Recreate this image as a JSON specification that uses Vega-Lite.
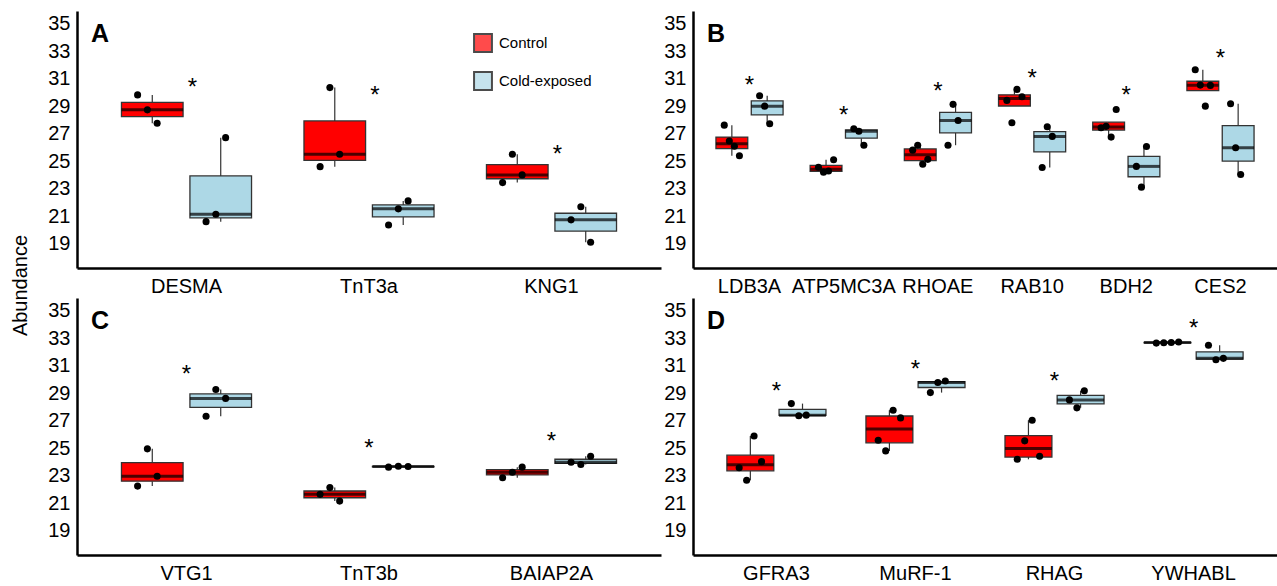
{
  "$schema": "https://vega.github.io/schema/vega-lite/v6.json",
  "padding": {"left": 10, "top": 11, "right": 0, "bottom": 0},
  "datasets": {
    "pts": [
      {"panel":"A","gene":"DESMA","group":"Control","rep":1,"value":29.84},
      {"panel":"A","gene":"DESMA","group":"Control","rep":2,"value":28.75},
      {"panel":"A","gene":"DESMA","group":"Control","rep":3,"value":27.78},
      {"panel":"A","gene":"DESMA","group":"Cold-exposed","rep":1,"value":20.62},
      {"panel":"A","gene":"DESMA","group":"Cold-exposed","rep":2,"value":21.16},
      {"panel":"A","gene":"DESMA","group":"Cold-exposed","rep":3,"value":26.73},
      {"panel":"A","gene":"TnT3a","group":"Control","rep":1,"value":24.62},
      {"panel":"A","gene":"TnT3a","group":"Control","rep":2,"value":30.37},
      {"panel":"A","gene":"TnT3a","group":"Control","rep":3,"value":25.52},
      {"panel":"A","gene":"TnT3a","group":"Cold-exposed","rep":1,"value":20.38},
      {"panel":"A","gene":"TnT3a","group":"Cold-exposed","rep":2,"value":21.55},
      {"panel":"A","gene":"TnT3a","group":"Cold-exposed","rep":3,"value":22.13},
      {"panel":"A","gene":"KNG1","group":"Control","rep":1,"value":23.46},
      {"panel":"A","gene":"KNG1","group":"Control","rep":2,"value":25.52},
      {"panel":"A","gene":"KNG1","group":"Control","rep":3,"value":24.02},
      {"panel":"A","gene":"KNG1","group":"Cold-exposed","rep":1,"value":20.75},
      {"panel":"A","gene":"KNG1","group":"Cold-exposed","rep":2,"value":21.71},
      {"panel":"A","gene":"KNG1","group":"Cold-exposed","rep":3,"value":19.12},

      {"panel":"B","gene":"LDB3A","group":"Control","rep":1,"value":27.64},
      {"panel":"B","gene":"LDB3A","group":"Control","rep":2,"value":26.48},
      {"panel":"B","gene":"LDB3A","group":"Control","rep":3,"value":26.11},
      {"panel":"B","gene":"LDB3A","group":"Control","rep":4,"value":25.41},
      {"panel":"B","gene":"LDB3A","group":"Cold-exposed","rep":1,"value":29.78},
      {"panel":"B","gene":"LDB3A","group":"Cold-exposed","rep":2,"value":29.02},
      {"panel":"B","gene":"LDB3A","group":"Cold-exposed","rep":3,"value":27.74},
      {"panel":"B","gene":"ATP5MC3A","group":"Control","rep":1,"value":24.58},
      {"panel":"B","gene":"ATP5MC3A","group":"Control","rep":2,"value":24.22},
      {"panel":"B","gene":"ATP5MC3A","group":"Control","rep":3,"value":24.3},
      {"panel":"B","gene":"ATP5MC3A","group":"Control","rep":4,"value":25.12},
      {"panel":"B","gene":"ATP5MC3A","group":"Cold-exposed","rep":1,"value":27.38},
      {"panel":"B","gene":"ATP5MC3A","group":"Cold-exposed","rep":2,"value":27.2},
      {"panel":"B","gene":"ATP5MC3A","group":"Cold-exposed","rep":3,"value":26.18},
      {"panel":"B","gene":"RHOAE","group":"Control","rep":1,"value":25.82},
      {"panel":"B","gene":"RHOAE","group":"Control","rep":2,"value":26.18},
      {"panel":"B","gene":"RHOAE","group":"Control","rep":3,"value":24.8},
      {"panel":"B","gene":"RHOAE","group":"Control","rep":4,"value":25.15},
      {"panel":"B","gene":"RHOAE","group":"Cold-exposed","rep":1,"value":26.18},
      {"panel":"B","gene":"RHOAE","group":"Cold-exposed","rep":2,"value":29.15},
      {"panel":"B","gene":"RHOAE","group":"Cold-exposed","rep":3,"value":27.98},
      {"panel":"B","gene":"RAB10","group":"Control","rep":1,"value":29.44},
      {"panel":"B","gene":"RAB10","group":"Control","rep":2,"value":27.81},
      {"panel":"B","gene":"RAB10","group":"Control","rep":3,"value":30.24},
      {"panel":"B","gene":"RAB10","group":"Control","rep":4,"value":29.71},
      {"panel":"B","gene":"RAB10","group":"Cold-exposed","rep":1,"value":24.56},
      {"panel":"B","gene":"RAB10","group":"Cold-exposed","rep":2,"value":27.52},
      {"panel":"B","gene":"RAB10","group":"Cold-exposed","rep":3,"value":26.82},
      {"panel":"B","gene":"BDH2","group":"Control","rep":1,"value":27.45},
      {"panel":"B","gene":"BDH2","group":"Control","rep":2,"value":27.55},
      {"panel":"B","gene":"BDH2","group":"Control","rep":3,"value":26.77},
      {"panel":"B","gene":"BDH2","group":"Control","rep":4,"value":28.78},
      {"panel":"B","gene":"BDH2","group":"Cold-exposed","rep":1,"value":24.64},
      {"panel":"B","gene":"BDH2","group":"Cold-exposed","rep":2,"value":23.13},
      {"panel":"B","gene":"BDH2","group":"Cold-exposed","rep":3,"value":26.09},
      {"panel":"B","gene":"CES2","group":"Control","rep":1,"value":31.67},
      {"panel":"B","gene":"CES2","group":"Control","rep":2,"value":30.55},
      {"panel":"B","gene":"CES2","group":"Control","rep":3,"value":29.02},
      {"panel":"B","gene":"CES2","group":"Control","rep":4,"value":30.53},
      {"panel":"B","gene":"CES2","group":"Cold-exposed","rep":1,"value":29.2},
      {"panel":"B","gene":"CES2","group":"Cold-exposed","rep":2,"value":26.0},
      {"panel":"B","gene":"CES2","group":"Cold-exposed","rep":3,"value":24.05},

      {"panel":"C","gene":"VTG1","group":"Control","rep":1,"value":22.26},
      {"panel":"C","gene":"VTG1","group":"Control","rep":2,"value":24.97},
      {"panel":"C","gene":"VTG1","group":"Control","rep":3,"value":22.98},
      {"panel":"C","gene":"VTG1","group":"Cold-exposed","rep":1,"value":27.34},
      {"panel":"C","gene":"VTG1","group":"Cold-exposed","rep":2,"value":29.29},
      {"panel":"C","gene":"VTG1","group":"Cold-exposed","rep":3,"value":28.64},
      {"panel":"C","gene":"TnT3b","group":"Control","rep":1,"value":21.66},
      {"panel":"C","gene":"TnT3b","group":"Control","rep":2,"value":22.15},
      {"panel":"C","gene":"TnT3b","group":"Control","rep":3,"value":21.17},
      {"panel":"C","gene":"TnT3b","group":"Cold-exposed","rep":1,"value":23.64},
      {"panel":"C","gene":"TnT3b","group":"Cold-exposed","rep":2,"value":23.7},
      {"panel":"C","gene":"TnT3b","group":"Cold-exposed","rep":3,"value":23.68},
      {"panel":"C","gene":"BAIAP2A","group":"Control","rep":1,"value":22.87},
      {"panel":"C","gene":"BAIAP2A","group":"Control","rep":2,"value":23.27},
      {"panel":"C","gene":"BAIAP2A","group":"Control","rep":3,"value":23.64},
      {"panel":"C","gene":"BAIAP2A","group":"Cold-exposed","rep":1,"value":24.0},
      {"panel":"C","gene":"BAIAP2A","group":"Cold-exposed","rep":2,"value":23.83},
      {"panel":"C","gene":"BAIAP2A","group":"Cold-exposed","rep":3,"value":24.43},

      {"panel":"D","gene":"GFRA3","group":"Control","rep":1,"value":23.6},
      {"panel":"D","gene":"GFRA3","group":"Control","rep":2,"value":22.69},
      {"panel":"D","gene":"GFRA3","group":"Control","rep":3,"value":25.91},
      {"panel":"D","gene":"GFRA3","group":"Control","rep":4,"value":24.04},
      {"panel":"D","gene":"GFRA3","group":"Cold-exposed","rep":1,"value":28.26},
      {"panel":"D","gene":"GFRA3","group":"Cold-exposed","rep":2,"value":27.38},
      {"panel":"D","gene":"GFRA3","group":"Cold-exposed","rep":3,"value":27.42},
      {"panel":"D","gene":"MuRF-1","group":"Control","rep":1,"value":25.6},
      {"panel":"D","gene":"MuRF-1","group":"Control","rep":2,"value":24.82},
      {"panel":"D","gene":"MuRF-1","group":"Control","rep":3,"value":27.78},
      {"panel":"D","gene":"MuRF-1","group":"Control","rep":4,"value":27.22},
      {"panel":"D","gene":"MuRF-1","group":"Cold-exposed","rep":1,"value":29.06},
      {"panel":"D","gene":"MuRF-1","group":"Cold-exposed","rep":2,"value":29.8},
      {"panel":"D","gene":"MuRF-1","group":"Cold-exposed","rep":3,"value":29.9},
      {"panel":"D","gene":"RHAG","group":"Control","rep":1,"value":24.21},
      {"panel":"D","gene":"RHAG","group":"Control","rep":2,"value":25.55},
      {"panel":"D","gene":"RHAG","group":"Control","rep":3,"value":27.05},
      {"panel":"D","gene":"RHAG","group":"Control","rep":4,"value":24.43},
      {"panel":"D","gene":"RHAG","group":"Cold-exposed","rep":1,"value":28.53},
      {"panel":"D","gene":"RHAG","group":"Cold-exposed","rep":2,"value":27.95},
      {"panel":"D","gene":"RHAG","group":"Cold-exposed","rep":3,"value":29.2},
      {"panel":"D","gene":"YWHABL","group":"Control","rep":1,"value":32.66},
      {"panel":"D","gene":"YWHABL","group":"Control","rep":2,"value":32.69},
      {"panel":"D","gene":"YWHABL","group":"Control","rep":3,"value":32.71},
      {"panel":"D","gene":"YWHABL","group":"Control","rep":4,"value":32.74},
      {"panel":"D","gene":"YWHABL","group":"Cold-exposed","rep":1,"value":32.5},
      {"panel":"D","gene":"YWHABL","group":"Cold-exposed","rep":2,"value":31.45},
      {"panel":"D","gene":"YWHABL","group":"Cold-exposed","rep":3,"value":31.55}
    ],
    "sig": [
      {"panel":"A","gene":"DESMA","y":30.85},
      {"panel":"A","gene":"TnT3a","y":30.25},
      {"panel":"A","gene":"KNG1","y":26.0},
      {"panel":"B","gene":"LDB3A","y":30.96},
      {"panel":"B","gene":"ATP5MC3A","y":28.78},
      {"panel":"B","gene":"RHOAE","y":30.53},
      {"panel":"B","gene":"RAB10","y":31.5},
      {"panel":"B","gene":"BDH2","y":30.29},
      {"panel":"B","gene":"CES2","y":32.94},
      {"panel":"C","gene":"VTG1","y":30.84},
      {"panel":"C","gene":"TnT3b","y":25.45},
      {"panel":"C","gene":"BAIAP2A","y":25.99},
      {"panel":"D","gene":"GFRA3","y":29.6},
      {"panel":"D","gene":"MuRF-1","y":31.2},
      {"panel":"D","gene":"RHAG","y":30.32},
      {"panel":"D","gene":"YWHABL","y":34.22}
    ]
  },
  "columns": 2,
  "spacing": {"row": 30, "column": 32},
  "bounds": "flush",
  "resolve": {"legend": {"color": "independent"}},
  "concat": [
    {
      "width": 584, "height": 257,
      "title": {"text": "A", "anchor": "start", "frame": "group", "fontSize": 25, "fontWeight": "bold", "color": "black", "offset": 0, "baseline": "alphabetic", "dx": 14, "dy": 56},
      "layer": [
        {
          "data": {"name": "pts"},
          "transform": [{"filter": "datum.panel === 'A'"}],
          "mark": {"type": "boxplot", "extent": 1.5, "size": 61.6, "ticks": false, "outliers": false,
                   "box": {"stroke": "#333333", "strokeWidth": 1.3},
                   "median": {"color": "black", "thickness": 3},
                   "rule": {"color": "#333333", "strokeWidth": 1.2}},
          "encoding": {
            "x": {"field": "gene", "type": "nominal", "scale": {"domain": ["DESMA","TnT3a","KNG1"], "paddingInner": 0, "paddingOuter": 0.1}, "axis": {"title": null}},
            "xOffset": {"field": "group", "type": "nominal", "scale": {"domain": ["Control","Cold-exposed"], "paddingInner": 0.1, "paddingOuter": 0.383}},
            "y": {"field": "value", "type": "quantitative", "title": "Abundance", "scale": {"domain": [17.25, 35.94], "nice": false, "zero": false}, "axis": {"values": [19,21,23,25,27,29,31,33,35]}},
            "color": {"field": "group", "type": "nominal", "scale": {"domain": ["Control","Cold-exposed"], "range": ["#FF0000","#ADD8E6"]},
                      "legend": {"title": null, "orient": "none", "legendX": 396, "legendY": 22, "symbolType": "square", "symbolSize": 320, "symbolStrokeColor": "black", "symbolStrokeWidth": 2, "labelFontSize": 15, "labelColor": "black", "labelOffset": 6, "rowPadding": 12}}
          }
        },
        {
          "data": {"name": "pts"},
          "transform": [{"filter": "datum.panel === 'A'"}, {"calculate": "datum.group + '|' + datum.rep", "as": "slot"}],
          "mark": {"type": "circle", "size": 50, "color": "black", "opacity": 1},
          "encoding": {
            "x": {"field": "gene", "type": "nominal", "scale": {"domain": ["DESMA","TnT3a","KNG1"], "paddingInner": 0, "paddingOuter": 0.1}, "axis": {"title": null}},
            "xOffset": {"field": "slot", "type": "nominal", "scale": {"type": "point", "domain": ["l1","l2","l3","l4","Control|1","Control|2","Control|3","Control|4","s1","s2","s3","Cold-exposed|1","Cold-exposed|2","Cold-exposed|3","Cold-exposed|4","r1","r2","r3","r4"], "padding": 0.33}},
            "y": {"field": "value", "type": "quantitative", "title": "Abundance", "scale": {"domain": [17.25, 35.94], "nice": false, "zero": false}, "axis": {"values": [19,21,23,25,27,29,31,33,35]}}
          }
        },
        {
          "data": {"name": "sig"},
          "transform": [{"filter": "datum.panel === 'A'"}],
          "mark": {"type": "text", "text": "*", "fontSize": 24, "dy": 14, "dx": 6, "baseline": "alphabetic", "color": "black"},
          "encoding": {
            "x": {"field": "gene", "type": "nominal", "scale": {"domain": ["DESMA","TnT3a","KNG1"], "paddingInner": 0, "paddingOuter": 0.1}, "axis": {"title": null}},
            "y": {"field": "y", "type": "quantitative", "title": "Abundance", "scale": {"domain": [17.25, 35.94], "nice": false, "zero": false}, "axis": {"values": [19,21,23,25,27,29,31,33,35]}}
          }
        }
      ],
      "resolve": {"scale": {"xOffset": "independent"}}
    },
    {
      "width": 584, "height": 257,
      "title": {"text": "B", "anchor": "start", "frame": "group", "fontSize": 25, "fontWeight": "bold", "color": "black", "offset": 0, "baseline": "alphabetic", "dx": 14, "dy": 56},
      "layer": [
        {
          "data": {"name": "pts"},
          "transform": [{"filter": "datum.panel === 'B'"}],
          "mark": {"type": "boxplot", "extent": 1.5, "size": 31.8, "ticks": false, "outliers": false,
                   "box": {"stroke": "#333333", "strokeWidth": 1.3},
                   "median": {"color": "black", "thickness": 3},
                   "rule": {"color": "#333333", "strokeWidth": 1.2}},
          "encoding": {
            "x": {"field": "gene", "type": "nominal", "scale": {"domain": ["LDB3A","ATP5MC3A","RHOAE","RAB10","BDH2","CES2"], "paddingInner": 0, "paddingOuter": 0.1}, "axis": {"title": null}},
            "xOffset": {"field": "group", "type": "nominal", "scale": {"domain": ["Control","Cold-exposed"], "paddingInner": 0.1, "paddingOuter": 0.383}},
            "y": {"field": "value", "type": "quantitative", "title": null, "scale": {"domain": [17.25, 35.94], "nice": false, "zero": false}, "axis": {"values": [19,21,23,25,27,29,31,33,35]}},
            "color": {"field": "group", "type": "nominal", "scale": {"domain": ["Control","Cold-exposed"], "range": ["#FF0000","#ADD8E6"]}, "legend": null}
          }
        },
        {
          "data": {"name": "pts"},
          "transform": [{"filter": "datum.panel === 'B'"}, {"calculate": "datum.group + '|' + datum.rep", "as": "slot"}],
          "mark": {"type": "circle", "size": 50, "color": "black", "opacity": 1},
          "encoding": {
            "x": {"field": "gene", "type": "nominal", "scale": {"domain": ["LDB3A","ATP5MC3A","RHOAE","RAB10","BDH2","CES2"], "paddingInner": 0, "paddingOuter": 0.1}, "axis": {"title": null}},
            "xOffset": {"field": "slot", "type": "nominal", "scale": {"type": "point", "domain": ["l1","l2","l3","l4","Control|1","Control|2","Control|3","Control|4","s1","s2","s3","Cold-exposed|1","Cold-exposed|2","Cold-exposed|3","Cold-exposed|4","r1","r2","r3","r4"], "padding": 0.33}},
            "y": {"field": "value", "type": "quantitative", "title": null, "scale": {"domain": [17.25, 35.94], "nice": false, "zero": false}, "axis": {"values": [19,21,23,25,27,29,31,33,35]}}
          }
        },
        {
          "data": {"name": "sig"},
          "transform": [{"filter": "datum.panel === 'B'"}],
          "mark": {"type": "text", "text": "*", "fontSize": 24, "dy": 14, "baseline": "alphabetic", "color": "black"},
          "encoding": {
            "x": {"field": "gene", "type": "nominal", "scale": {"domain": ["LDB3A","ATP5MC3A","RHOAE","RAB10","BDH2","CES2"], "paddingInner": 0, "paddingOuter": 0.1}, "axis": {"title": null}},
            "y": {"field": "y", "type": "quantitative", "title": null, "scale": {"domain": [17.25, 35.94], "nice": false, "zero": false}, "axis": {"values": [19,21,23,25,27,29,31,33,35]}}
          }
        }
      ],
      "resolve": {"scale": {"xOffset": "independent"}}
    },
    {
      "width": 584, "height": 257,
      "title": {"text": "C", "anchor": "start", "frame": "group", "fontSize": 25, "fontWeight": "bold", "color": "black", "offset": 0, "baseline": "alphabetic", "dx": 14, "dy": 56},
      "layer": [
        {
          "data": {"name": "pts"},
          "transform": [{"filter": "datum.panel === 'C'"}],
          "mark": {"type": "boxplot", "extent": 1.5, "size": 61.6, "ticks": false, "outliers": false,
                   "box": {"stroke": "#333333", "strokeWidth": 1.3},
                   "median": {"color": "black", "thickness": 3},
                   "rule": {"color": "#333333", "strokeWidth": 1.2}},
          "encoding": {
            "x": {"field": "gene", "type": "nominal", "scale": {"domain": ["VTG1","TnT3b","BAIAP2A"], "paddingInner": 0, "paddingOuter": 0.1}, "axis": {"title": null}},
            "xOffset": {"field": "group", "type": "nominal", "scale": {"domain": ["Control","Cold-exposed"], "paddingInner": 0.1, "paddingOuter": 0.383}},
            "y": {"field": "value", "type": "quantitative", "title": null, "scale": {"domain": [17.25, 35.94], "nice": false, "zero": false}, "axis": {"values": [19,21,23,25,27,29,31,33,35]}},
            "color": {"field": "group", "type": "nominal", "scale": {"domain": ["Control","Cold-exposed"], "range": ["#FF0000","#ADD8E6"]}, "legend": null}
          }
        },
        {
          "data": {"name": "pts"},
          "transform": [{"filter": "datum.panel === 'C'"}, {"calculate": "datum.group + '|' + datum.rep", "as": "slot"}],
          "mark": {"type": "circle", "size": 50, "color": "black", "opacity": 1},
          "encoding": {
            "x": {"field": "gene", "type": "nominal", "scale": {"domain": ["VTG1","TnT3b","BAIAP2A"], "paddingInner": 0, "paddingOuter": 0.1}, "axis": {"title": null}},
            "xOffset": {"field": "slot", "type": "nominal", "scale": {"type": "point", "domain": ["l1","l2","l3","l4","Control|1","Control|2","Control|3","Control|4","s1","s2","s3","Cold-exposed|1","Cold-exposed|2","Cold-exposed|3","Cold-exposed|4","r1","r2","r3","r4"], "padding": 0.33}},
            "y": {"field": "value", "type": "quantitative", "title": null, "scale": {"domain": [17.25, 35.94], "nice": false, "zero": false}, "axis": {"values": [19,21,23,25,27,29,31,33,35]}}
          }
        },
        {
          "data": {"name": "sig"},
          "transform": [{"filter": "datum.panel === 'C'"}],
          "mark": {"type": "text", "text": "*", "fontSize": 24, "dy": 14, "baseline": "alphabetic", "color": "black"},
          "encoding": {
            "x": {"field": "gene", "type": "nominal", "scale": {"domain": ["VTG1","TnT3b","BAIAP2A"], "paddingInner": 0, "paddingOuter": 0.1}, "axis": {"title": null}},
            "y": {"field": "y", "type": "quantitative", "title": null, "scale": {"domain": [17.25, 35.94], "nice": false, "zero": false}, "axis": {"values": [19,21,23,25,27,29,31,33,35]}}
          }
        }
      ],
      "resolve": {"scale": {"xOffset": "independent"}}
    },
    {
      "width": 584, "height": 257,
      "title": {"text": "D", "anchor": "start", "frame": "group", "fontSize": 25, "fontWeight": "bold", "color": "black", "offset": 0, "baseline": "alphabetic", "dx": 14, "dy": 56},
      "layer": [
        {
          "data": {"name": "pts"},
          "transform": [{"filter": "datum.panel === 'D'"}],
          "mark": {"type": "boxplot", "extent": 1.5, "size": 46.9, "ticks": false, "outliers": false,
                   "box": {"stroke": "#333333", "strokeWidth": 1.3},
                   "median": {"color": "black", "thickness": 3},
                   "rule": {"color": "#333333", "strokeWidth": 1.2}},
          "encoding": {
            "x": {"field": "gene", "type": "nominal", "scale": {"domain": ["GFRA3","MuRF-1","RHAG","YWHABL"], "paddingInner": 0, "paddingOuter": 0.1}, "axis": {"title": null}},
            "xOffset": {"field": "group", "type": "nominal", "scale": {"domain": ["Control","Cold-exposed"], "paddingInner": 0.1, "paddingOuter": 0.383}},
            "y": {"field": "value", "type": "quantitative", "title": null, "scale": {"domain": [17.25, 35.94], "nice": false, "zero": false}, "axis": {"values": [19,21,23,25,27,29,31,33,35]}},
            "color": {"field": "group", "type": "nominal", "scale": {"domain": ["Control","Cold-exposed"], "range": ["#FF0000","#ADD8E6"]}, "legend": null}
          }
        },
        {
          "data": {"name": "pts"},
          "transform": [{"filter": "datum.panel === 'D'"}, {"calculate": "datum.group + '|' + datum.rep", "as": "slot"}],
          "mark": {"type": "circle", "size": 50, "color": "black", "opacity": 1},
          "encoding": {
            "x": {"field": "gene", "type": "nominal", "scale": {"domain": ["GFRA3","MuRF-1","RHAG","YWHABL"], "paddingInner": 0, "paddingOuter": 0.1}, "axis": {"title": null}},
            "xOffset": {"field": "slot", "type": "nominal", "scale": {"type": "point", "domain": ["l1","l2","l3","l4","Control|1","Control|2","Control|3","Control|4","s1","s2","s3","Cold-exposed|1","Cold-exposed|2","Cold-exposed|3","Cold-exposed|4","r1","r2","r3","r4"], "padding": 0.33}},
            "y": {"field": "value", "type": "quantitative", "title": null, "scale": {"domain": [17.25, 35.94], "nice": false, "zero": false}, "axis": {"values": [19,21,23,25,27,29,31,33,35]}}
          }
        },
        {
          "data": {"name": "sig"},
          "transform": [{"filter": "datum.panel === 'D'"}],
          "mark": {"type": "text", "text": "*", "fontSize": 24, "dy": 14, "baseline": "alphabetic", "color": "black"},
          "encoding": {
            "x": {"field": "gene", "type": "nominal", "scale": {"domain": ["GFRA3","MuRF-1","RHAG","YWHABL"], "paddingInner": 0, "paddingOuter": 0.1}, "axis": {"title": null}},
            "y": {"field": "y", "type": "quantitative", "title": null, "scale": {"domain": [17.25, 35.94], "nice": false, "zero": false}, "axis": {"values": [19,21,23,25,27,29,31,33,35]}}
          }
        }
      ],
      "resolve": {"scale": {"xOffset": "independent"}}
    }
  ],
  "config": {
    "font": "Liberation Sans",
    "view": {"stroke": null},
    "axis": {"domainColor": "black", "domainWidth": 2.5, "ticks": false, "tickSize": 0, "grid": false, "labelColor": "black", "labelFontSize": 20, "titleFontWeight": "normal", "titleColor": "black", "titleFontSize": 20},
    "axisX": {"labelAngle": 0, "labelPadding": 8},
    "axisY": {"labelPadding": 7, "titleX": -47, "titleY": 274}
  }
}
